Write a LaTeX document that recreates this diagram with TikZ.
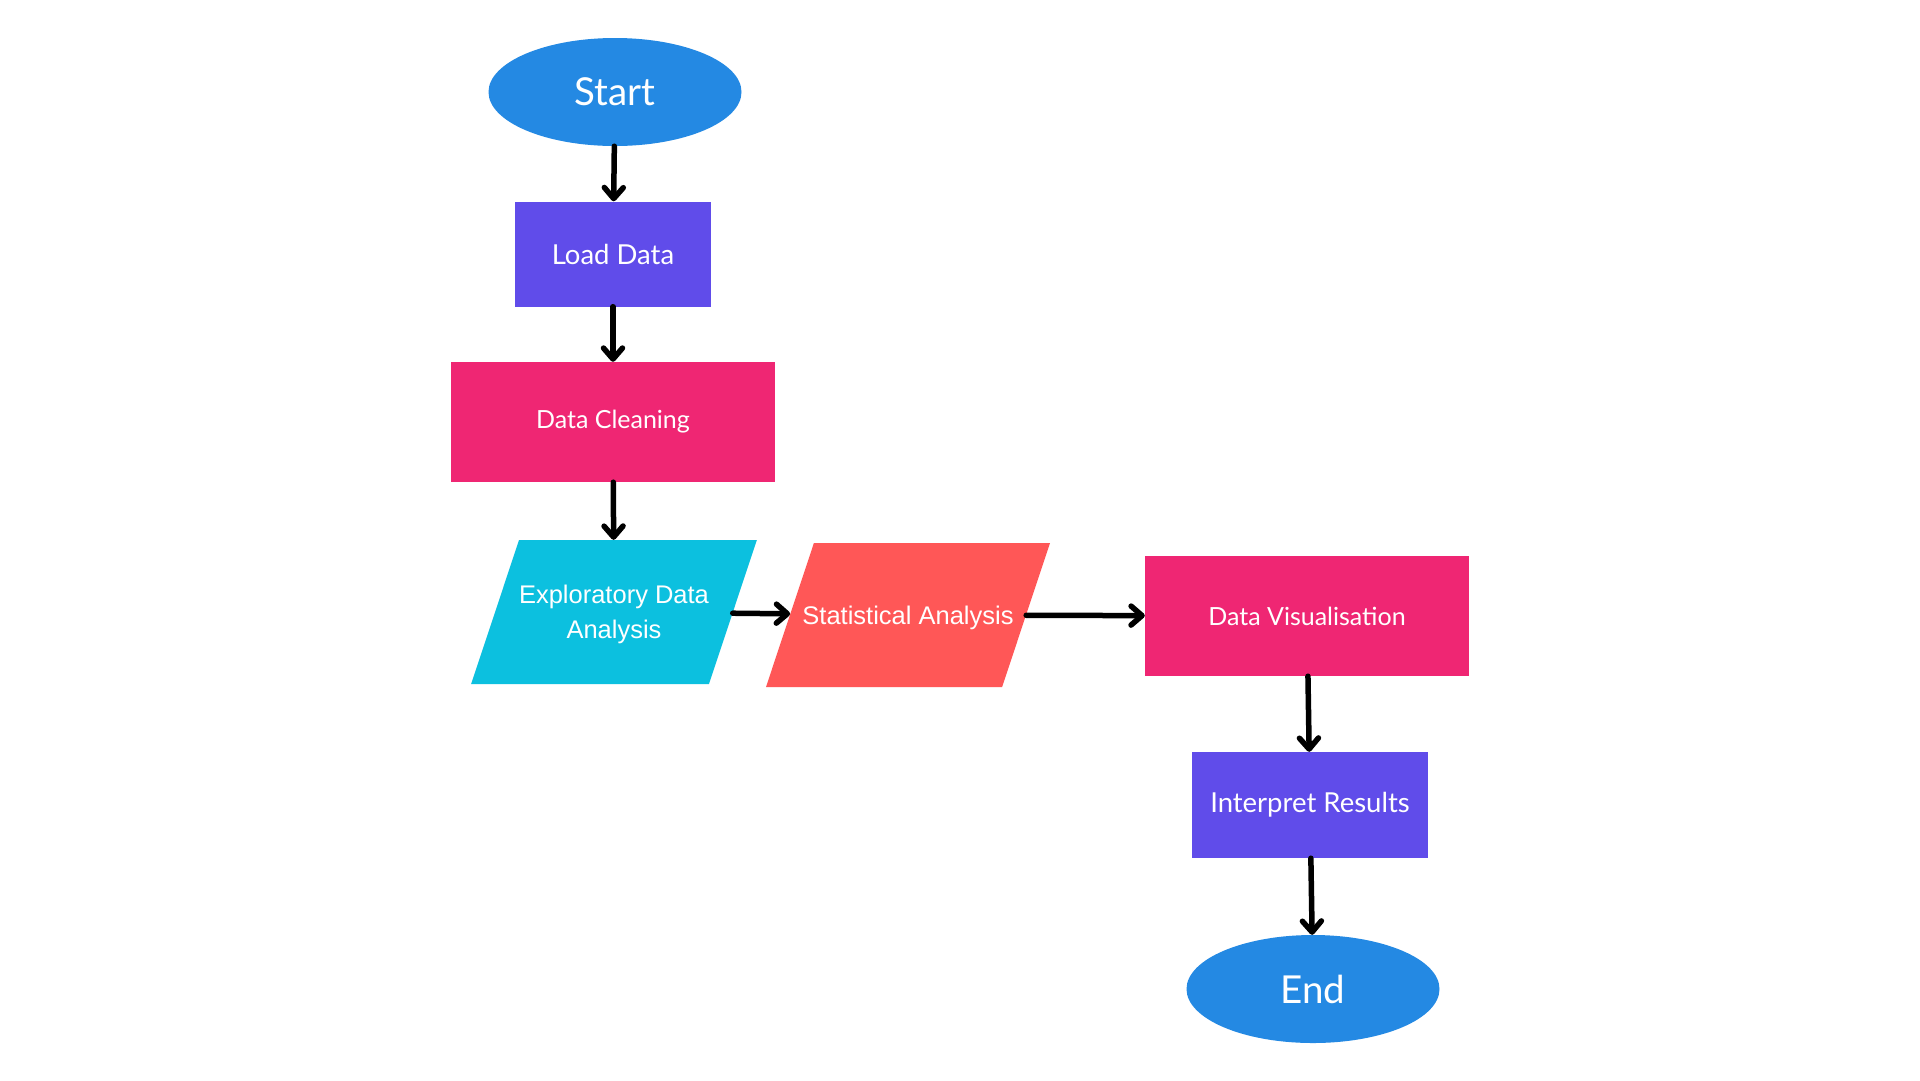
\documentclass[tikz,border=0pt]{standalone}
\usepackage{fontspec}
\setmainfont{Lato}
\newfontfamily\arialfont{Liberation Sans}
\usetikzlibrary{shapes.geometric,arrows.meta}

\definecolor{termblue}{HTML}{2489E3}
\definecolor{procviolet}{HTML}{604CEA}
\definecolor{procpink}{HTML}{EF2673}
\definecolor{iocyan}{HTML}{0CC0DF}
\definecolor{iored}{HTML}{FF5757}

\tikzset{
  terminal/.style={ellipse, fill=termblue, text=white, inner sep=0pt,
    minimum width=253pt, minimum height=108pt, font=\fontsize{38.5}{44}\selectfont},
  process/.style={rectangle, text=white, inner sep=0pt,
    font=\fontsize{25}{30}\selectfont},
  io/.style={trapezium, trapezium stretches body=true, trapezium left angle=71.6,
    trapezium right angle=108.4, text=white, inner sep=0pt, align=center,
    font=\arialfont\fontsize{25.5}{35}\selectfont},
  flow/.style={line width=5.5pt, line cap=round, -{Straight Barb[length=11pt,width=19pt,round]}}
}

\begin{document}
\begin{tikzpicture}[x=1pt,y=-1pt]
  \useasboundingbox (0,0) rectangle (1920,1080);
  \fill[white] (0,0) rectangle (1920,1080);

  %Define nodes
  \node[terminal] (start) at (615,92) {Start};
  \node[process, fill=procviolet, minimum width=196pt, minimum height=105pt,
    font=\fontsize{27.5}{32}\selectfont] (load) at (613,254) {Load Data};
  \node[process, fill=procpink, minimum width=324pt, minimum height=120pt] (clean) at (613,422) {Data Cleaning};
  \node[io, fill=iocyan, minimum width=283pt, text height=98.6pt, text depth=45.4pt] (eda) at (614,612) {Exploratory Data\\Analysis};
  \node[io, fill=iored, minimum width=284pt, text height=81.1pt, text depth=62.9pt] (stat) at (908,615) {\makebox[188pt]{Statistical Analysis}};
  \node[process, fill=procpink, minimum width=324pt, minimum height=120pt] (vis) at (1307,616) {Data Visualisation};
  \node[process, fill=procviolet, minimum width=236pt, minimum height=106pt,
    font=\fontsize{27.5}{32}\selectfont] (interp) at (1310,805) {Interpret Results};
  \node[terminal] (end) at (1313,989) {End};

  % Connect the nodes
  \draw[flow] (start) -- (load);
  \draw[flow] (load) -- (clean);
  \draw[flow] (clean) -- (eda);
  \draw[flow] (eda) -- (stat);
  \draw[flow] (stat) -- (vis);
  \draw[flow] (vis) -- (interp);
  \draw[flow] (interp) -- (end);

\end{tikzpicture}
\end{document}
